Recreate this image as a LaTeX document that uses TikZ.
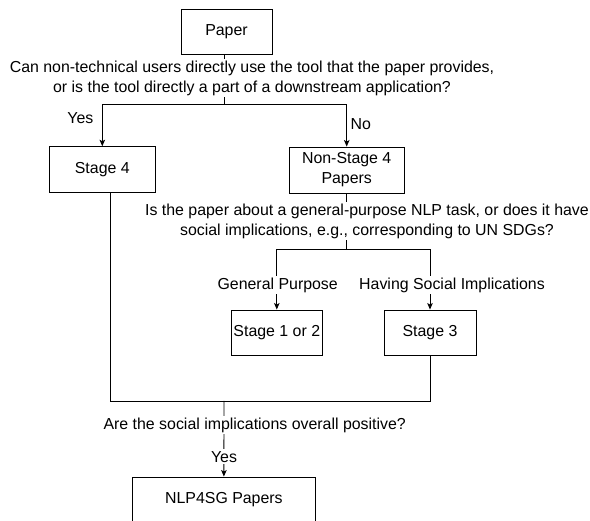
\documentclass[tikz,border=0pt]{standalone}
\usepackage{fontspec}
\setmainfont{Liberation Sans}
\usetikzlibrary{arrows.meta,backgrounds}
\newcommand{\dfont}{\fontsize{15.9}{20}\selectfont}
\tikzset{
  stagebox/.style={draw=black, line width=0.9pt, inner sep=0pt, align=center, font=\dfont},
  qtext/.style={fill=white, inner sep=2pt, align=center, font=\dfont},
  lbltext/.style={fill=white, inner sep=2pt, font=\dfont},
  conn/.style={draw=black, line width=0.9pt},
  arr/.style={conn, -{Stealth[length=6.5pt,width=5.5pt,inset=1.5pt]}},
}
\begin{document}
\begin{tikzpicture}[x=1pt,y=-1pt]
\useasboundingbox (0,0) rectangle (590,521);
\clip (0,0) rectangle (590,521);
\begin{scope}[on background layer]
  \fill[white] (0,0) rectangle (590,521);
\end{scope}

% nodes
\node[stagebox, minimum width=91pt, minimum height=45pt] (paper) at (226.5,31.8) {Paper};
\node[qtext] (q1) at (252,78) {Can non-technical users directly use the tool that the paper provides,\\or is the tool directly a part of a downstream application?};
\coordinate (j1) at (224,104);
\node[stagebox, minimum width=106.6pt, minimum height=46pt] (s4) at (102.3,169.7) {Stage 4};
\node[stagebox, minimum width=114.5pt, minimum height=46pt] (ns4) at (346.7,170) {Non-Stage 4\\Papers};
\node[lbltext] (yes1) at (80.4,118) {Yes};
\node[lbltext] (no1) at (360.8,124) {No};

\node[qtext] (q2) at (367,221) {Is the paper about a general-purpose NLP task, or does it have\\social implications, e.g., corresponding to UN SDGs?};
\coordinate (j2) at (346.7,249.3);
\node[lbltext] (gp) at (277.7,285) {General Purpose};
\node[lbltext] (hsi) at (452,285) {Having Social Implications};
\node[stagebox, minimum width=91.5pt, minimum height=45pt] (s12) at (276.8,332.5) {Stage 1 or 2};
\node[stagebox, minimum width=92pt, minimum height=45pt] (s3) at (430,332.5) {Stage 3};

\coordinate (j3) at (224,401);
\node[qtext] (q3) at (254.7,425) {Are the social implications overall positive?};
\node[lbltext] (yes2) at (224,456.7) {Yes};
\node[stagebox, minimum width=182.3pt, minimum height=46pt] (nlp) at (223.9,500) {NLP4SG Papers};

% connectors
\begin{scope}[on background layer]
  \draw[conn] (paper.south -| j1) -- (j1);
  \draw[arr] (j1) -| (s4.north);
  \draw[arr] (j1) -| (ns4.north);
  \draw[conn] (ns4.south) -- (j2);
  \draw[arr] (j2) -| (s12.north);
  \draw[arr] (j2) -| (s3.north);
  \draw[conn] ([xshift=7.7pt]s4.south) |- (j3);
  \draw[conn] (s3.south) |- (j3);
  \draw[arr] (j3) -- (nlp.north);
\end{scope}
\end{tikzpicture}
\end{document}
